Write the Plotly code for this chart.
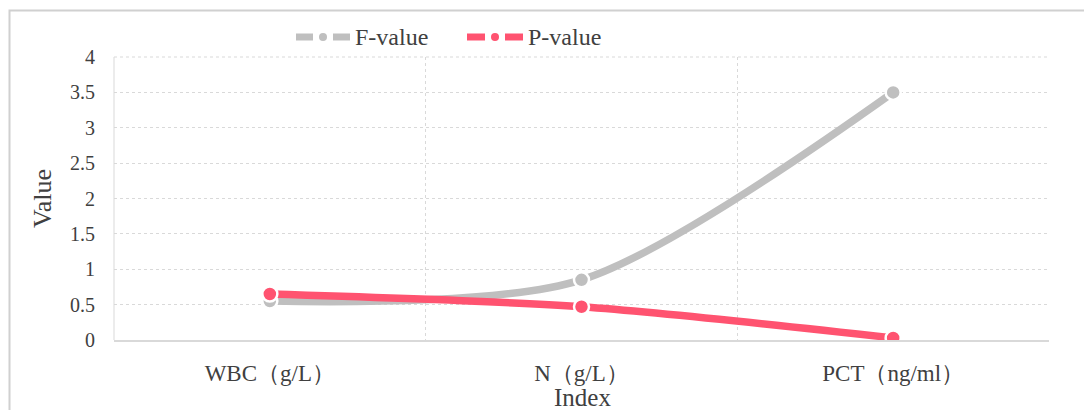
import plotly.graph_objects as go

categories = ["WBC（g/L）", "N（g/L）", "PCT（ng/ml）"]
f_values = [0.55, 0.85, 3.5]
p_values = [0.65, 0.47, 0.03]
y_ticks = [0, 0.5, 1, 1.5, 2, 2.5, 3, 3.5, 4]
series_names = ["F-value", "P-value"]
series_colors = ["#BFBFBF", "#FF5370"]

x_pos = list(range(len(categories)))

fig = go.Figure()
for name, vals, col in zip(series_names, [f_values, p_values], series_colors):
    fig.add_trace(go.Scatter(
        x=x_pos, y=vals, name=name, mode="lines+markers", showlegend=False,
        line=dict(color=col, width=7.5, shape="spline", smoothing=0.8),
        marker=dict(size=15, color=col, line=dict(color="white", width=2.5)),
    ))

# page body has an 8px margin; target plot area in window px: x 114-1049, y 57-340
OFF = 8
W, H = 1092 - OFF, 410 - OFF
px0, px1, py0, py1 = 114 - OFF, 1049 - OFF, 57 - OFF, 340 - OFF
l, r, t, b = px0, W - px1, py0, H - py1
pw, ph = px1 - px0, py1 - py0

def X(v):  # window px -> paper x
    return (v - OFF - px0) / pw

def Y(v):  # window px -> paper y
    return (py1 - (v - OFF)) / ph

shapes = [
    dict(type="rect", xref="paper", yref="paper",
         x0=X(9.5), x1=X(1110), y0=Y(430), y1=Y(10.5),
         line=dict(color="#D0D0D0", width=2), fillcolor="rgba(0,0,0,0)", layer="below"),
    dict(type="line", xref="paper", yref="paper", x0=0, x1=0, y0=0, y1=1,
         line=dict(color="#D9D9D9", width=1), layer="below"),
    dict(type="line", xref="paper", yref="paper", x0=0, x1=1, y0=1, y1=1,
         line=dict(color="#D9D9D9", width=1, dash="dot"), layer="below"),
]
annotations = []

# custom legend (Excel style: segment, dot, segment, label)
legend_y = 37
legend_x = [296, 467]
seg_widths = [17, 18]
for name, col, lx, segw in zip(series_names, series_colors, legend_x, seg_widths):
    shapes.append(dict(type="line", xref="paper", yref="paper", x0=X(lx), x1=X(lx + segw),
                       y0=Y(legend_y), y1=Y(legend_y), line=dict(color=col, width=7)))
    cx = lx + segw + 10
    shapes.append(dict(type="circle", xref="paper", yref="paper", x0=X(cx - 4), x1=X(cx + 4),
                       y0=Y(legend_y + 4), y1=Y(legend_y - 4), fillcolor=col, line=dict(width=0)))
    shapes.append(dict(type="line", xref="paper", yref="paper", x0=X(cx + 10), x1=X(cx + 10 + segw),
                       y0=Y(legend_y), y1=Y(legend_y), line=dict(color=col, width=7)))
    annotations.append(dict(text=name, xref="paper", yref="paper", x=X(cx + 10 + segw + 3),
                            y=Y(legend_y), xanchor="left", yanchor="middle", showarrow=False,
                            font=dict(size=24, color="#404040")))

annotations.append(dict(text="Index", xref="paper", yref="paper", x=X(582), y=Y(397),
                        xanchor="center", yanchor="middle", showarrow=False,
                        font=dict(size=25, color="#404040")))

fig.update_layout(
    width=W, height=H,
    margin=dict(l=l, r=r, t=t, b=b, autoexpand=False),
    paper_bgcolor="white", plot_bgcolor="white",
    font=dict(family="Liberation Serif, Times New Roman, serif", color="#404040", size=18),
    showlegend=False,
    xaxis=dict(
        range=[-0.5, 2.5], tickmode="array", tickvals=x_pos, ticktext=categories,
        showgrid=False, zeroline=False, showline=True, linecolor="#D9D9D9", linewidth=1.5,
        ticks="", tickfont=dict(size=23, color="#404040"), ticklabelstandoff=12,
        minor=dict(tickmode="array", tickvals=[0.5, 1.5, 2.5], showgrid=True,
                   gridcolor="#D9D9D9", griddash="dot", gridwidth=1, ticks=""),
        fixedrange=True,
    ),
    yaxis=dict(
        range=[0, 4], tickmode="array", tickvals=y_ticks,
        ticktext=[f"{v:g}" for v in y_ticks],
        showgrid=True, gridcolor="#D9D9D9", griddash="dot", gridwidth=1,
        zeroline=False, showline=False, ticks="", ticklabelstandoff=18,
        tickfont=dict(size=20, color="#404040"),
        title=dict(text="Value", font=dict(size=26, color="#404040"), standoff=10),
    ),
    shapes=shapes,
    annotations=annotations,
)

fig.write_html("out.html")
